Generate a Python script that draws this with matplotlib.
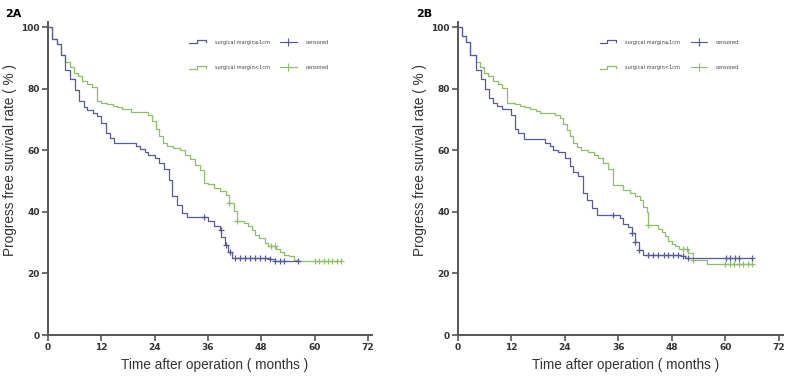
import matplotlib
matplotlib.use("Agg")
import numpy as np
import matplotlib.pyplot as plt
from matplotlib.lines import Line2D
from matplotlib.legend_handler import HandlerBase

# ---- data (months, survival %) ----
a_wide_t = [0, 0.8, 2, 2.9, 3.9, 5, 6.1, 7, 8.1, 8.8, 10.2, 11, 12, 13, 14, 14.9,
            19.8, 20.7, 21.8, 22.6, 24.1, 25, 26.1, 27.2, 28, 29, 30.1, 31.2,
            36.1, 37.3, 38.7, 39, 39.8, 40.6, 41.4, 49.9, 51, 56.2]
a_wide_s = [100, 96, 94.5, 91, 86, 83, 79.5, 76, 74, 73, 72, 71, 69, 65.5, 64, 62.5,
            61.5, 60.5, 59.5, 58.5, 57.5, 56, 54, 50.5, 45, 42.2, 39.7, 38.4,
            37, 35.4, 34, 31.7, 29.3, 26.8, 25.1, 24.6, 24, 24]
a_wide_cens = [35.2, 38.9, 40.1, 41, 42.1, 43.2, 44.3, 45.5, 46.6, 47.7, 48.8,
               49.9, 51.1, 52.2, 53.1, 56.2]

a_narrow_t = [0, 0.8, 2, 2.9, 3.9, 4.9, 5.9, 6.8, 7.6, 8.7, 9.8, 11, 12, 13.2, 14.7,
              15.5, 16.6, 18.6, 22.5, 23.5, 24.3, 25, 25.8, 26.7, 28.2, 29.7, 30.8,
              32, 33.1, 34.1, 35, 36.1, 37.3, 38.7, 40, 40.8, 41.8, 42.6, 44.1, 44.9,
              45.8, 46.6, 47.5, 48.8, 49.6, 51.3, 52.1, 53.2, 54.3, 55.4, 56.1, 66]
a_narrow_s = [100, 96, 94.5, 91, 88.5, 87, 85, 84, 82.5, 81.5, 80.5, 76, 75.3, 75, 74.5,
              74, 73.5, 72.5, 71.3, 69.5, 67, 64.5, 62.3, 61.3, 60.7, 60, 58.5,
              57, 55.3, 53.5, 49.5, 49, 47.8, 46.8, 45.6, 43, 40.3, 37, 36.5, 35.5,
              34, 32.5, 31.5, 30, 29, 28, 27, 26, 25.5, 24.5, 24, 24]
a_narrow_cens = [40.8, 42.6, 50.2, 51.1, 60, 61, 62, 63, 64, 65, 66]

b_wide_t = [0, 0.8, 1.8, 2.8, 4.0, 5.1, 6.1, 7, 7.9, 8.8, 9.8, 11.9, 12.8, 13.5, 14.7,
            19.5, 20.6, 21.4, 22.5, 24, 25.1, 25.9, 27, 28, 28.9, 30, 31.1, 36.3,
            37.1, 38.2, 39, 39.7, 40.7, 41.6, 50, 51, 66]
b_wide_s = [100, 97, 95, 91, 86, 83, 80, 77, 75.5, 74.5, 73.5, 71.5, 67, 65.5, 63.5,
            62.5, 61.5, 60, 59.3, 57.5, 55, 53, 51.5, 46, 43.8, 41.1, 39, 38,
            36, 35, 33, 30.3, 27.6, 26, 25.5, 25, 25]
b_wide_cens = [34.8, 39, 39.7, 40.7, 42.7, 43.8, 44.9, 46.1, 47.2, 48.3, 49.4, 50.5,
               51.7, 60.1, 61, 62.1, 63.1, 65.9]

b_narrow_t = [0, 0.8, 1.8, 2.8, 4, 4.9, 5.8, 6.8, 7.9, 8.9, 9.8, 10.9, 12.8, 13.9, 15,
              16.1, 17.6, 18.4, 21.8, 22.9, 23.6, 24.4, 25.1, 25.9, 26.6, 27.7, 29.2,
              30.4, 31.5, 32.6, 33.7, 34.8, 37.1, 38.6, 39.7, 40.8, 41.6, 42.3, 42.7,
              44.9, 45.7, 46.4, 47.2, 47.9, 48.7, 49.6, 51.7, 52.8, 55.8, 66]
b_narrow_s = [100, 97, 95, 91, 88.5, 87, 85, 84, 82.5, 81.5, 80.3, 75.3, 75, 74.5, 74,
              73.5, 72.8, 72, 71.5, 70.5, 68.5, 66.5, 64.5, 62.3, 61, 60.2, 59.5,
              58.5, 57.5, 56, 54, 48.7, 47, 46, 45, 44, 41.5, 40, 35.8,
              34.5, 33.5, 32, 30.5, 29.5, 29, 28, 26.5, 24.5, 23, 23]
b_narrow_cens = [42.7, 50.4, 51.3, 52.8, 60, 61, 62, 63, 64, 65, 66]

x_ticks = [0, 12, 24, 36, 48, 60, 72]
y_ticks = [0, 20, 40, 60, 80, 100]
labels = ["surgical margin\u22651cm", "surgical margin<1cm"]
panel_names = ["2A", "2B"]

BLUE = "#555a9e"
GREEN = "#8fbf66"
AXC = "#555555"
TXT = "#333333"


class StepHandler(HandlerBase):
    # little step-shaped legend icon like the original
    def create_artists(self, legend, orig_handle, xdescent, ydescent,
                       width, height, fontsize, trans):
        xs = np.array([0, 0.45, 0.45, 1.0, 1.0]) * width - xdescent
        ys = np.array([0.1, 0.1, 0.9, 0.9, 0.45]) * height - ydescent
        ln = Line2D(xs, ys, color=orig_handle.get_color(), lw=0.9, transform=trans)
        return [ln]


def km(ax, t, s, cens, color):
    ax.step(t, s, where="post", color=color, lw=0.9)
    # censor marks sit on the curve
    idx = np.searchsorted(t, cens, side="right") - 1
    cy = np.array(s)[idx]
    ax.plot(cens, cy, ls="none", marker="+", ms=5, mew=0.9, color=color)


fig = plt.figure(figsize=(7.9, 3.77), dpi=100)
ax_a = fig.add_axes([0.0608, 0.1114, 0.4106, 0.829])
ax_b = fig.add_axes([0.5797, 0.1114, 0.412, 0.829])

panels = [
    (ax_a, (a_wide_t, a_wide_s, a_wide_cens), (a_narrow_t, a_narrow_s, a_narrow_cens)),
    (ax_b, (b_wide_t, b_wide_s, b_wide_cens), (b_narrow_t, b_narrow_s, b_narrow_cens)),
]

for i, (ax, wide, narrow) in enumerate(panels):
    km(ax, *narrow, GREEN)
    km(ax, *wide, BLUE)
    ax.set_xlim(0, 73)
    ax.set_ylim(0, 101.5)
    ax.set_xticks(x_ticks)
    ax.set_yticks(y_ticks)
    for sp in ["top", "right"]:
        ax.spines[sp].set_visible(False)
    for sp in ["left", "bottom"]:
        ax.spines[sp].set_color(AXC)
        ax.spines[sp].set_linewidth(1.4)
    ax.tick_params(direction="out", length=4, width=1.2, color=AXC,
                   labelsize=6.5, labelcolor=TXT, pad=2)
    for lab in ax.get_xticklabels() + ax.get_yticklabels():
        lab.set_fontweight("bold")
    ax.set_xlabel("Time after operation ( months )", fontsize=9.8,
                  family="Liberation Sans", color=TXT)
    ax.set_ylabel("Progress free survival rate ( % )", fontsize=9.8,
                  family="Liberation Sans", color=TXT)
    ax.xaxis.set_label_coords(0.515, -0.075)
    ax.yaxis.set_label_coords(-0.095, 0.56)

    h = [Line2D([], [], color=BLUE), Line2D([], [], color=GREEN),
         Line2D([], [], color=BLUE, marker="+", ms=6, mew=0.8, lw=0.8),
         Line2D([], [], color=GREEN, marker="+", ms=6, mew=0.8, lw=0.8)]
    leg = ax.legend(h, labels + ["censored", "censored"], ncol=2, frameon=False,
                    loc="upper left", bbox_to_anchor=(0.435, 0.945),
                    prop={"family": "DejaVu Sans", "size": 3.7},
                    handler_map={h[0]: StepHandler(), h[1]: StepHandler()},
                    handlelength=3.2, handletextpad=1.8, columnspacing=2.0,
                    labelspacing=4.0, borderpad=0, borderaxespad=0)
    for t in leg.get_texts():
        t.set_color("#444444")

fig.text(0.006, 0.977, panel_names[0], fontsize=8, fontweight="bold", va="top")
fig.text(0.527, 0.977, panel_names[1], fontsize=8, fontweight="bold", va="top")

fig.savefig("out.png", dpi=100, facecolor="white")
